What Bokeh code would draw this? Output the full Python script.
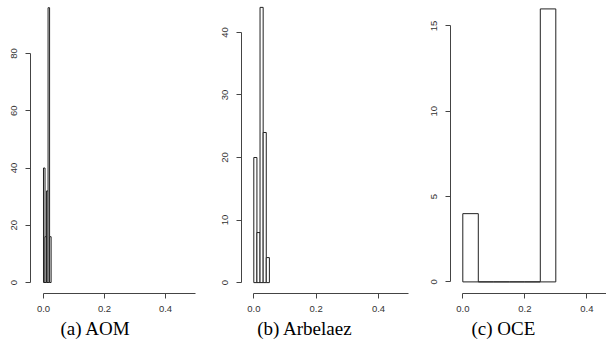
from bokeh.plotting import figure
from bokeh.layouts import row
from bokeh.models import FixedTicker, PrintfTickFormatter, Title, Range1d, ColumnDataSource
from bokeh.embed import file_html
from bokeh.resources import INLINE

# ---- data ----
aom_edges = [0.0, 0.005, 0.010, 0.015, 0.020, 0.025]
aom_counts = [40, 16, 32, 96, 16]

arb_edges = [0.0, 0.01, 0.02, 0.03, 0.04, 0.05]
arb_counts = [20, 8, 44, 24, 4]

oce_edges = [0.0, 0.05, 0.10, 0.15, 0.20, 0.25, 0.30]
oce_counts = [4, 0, 0, 0, 0, 16]

x_ticks = [0.0, 0.2, 0.4]
aom_yticks = [0, 20, 40, 60, 80]
arb_yticks = [0, 10, 20, 30, 40]
oce_yticks = [0, 5, 10, 15]

captions = ["(a) AOM", "(b) Arbelaez", "(c) OCE"]

AXIS_COLOR = "#444444"
TEXT_COLOR = "#333333"


def panel(edges, counts, yticks, caption, width, mb_left, mb_right, mb_bottom,
          xr, yr, cap_offset):
    p = figure(width=width, height=343, output_backend="svg", toolbar_location=None,
               x_range=Range1d(*xr), y_range=Range1d(*yr),
               min_border_left=mb_left, min_border_right=mb_right,
               min_border_top=5, min_border_bottom=mb_bottom)
    p.outline_line_color = None
    p.background_fill_color = "white"
    p.border_fill_color = "white"
    p.xgrid.visible = False
    p.ygrid.visible = False

    src = ColumnDataSource(dict(left=edges[:-1], right=edges[1:], top=counts,
                                bottom=[0] * len(counts)))
    p.quad(left="left", right="right", top="top", bottom="bottom", source=src,
           fill_color="white", line_color="#222222", line_width=1)

    for ax in (p.xaxis[0], p.yaxis[0]):
        ax.axis_line_color = AXIS_COLOR
        ax.major_tick_line_color = AXIS_COLOR
        ax.minor_tick_line_color = None
        ax.major_tick_in = 0
        ax.major_tick_out = 5
        ax.major_label_text_font = "Liberation Sans"
        ax.major_label_text_font_size = "9.5px"
        ax.major_label_text_color = TEXT_COLOR

    p.xaxis.bounds = (0, 0.5)
    p.xaxis.ticker = FixedTicker(ticks=x_ticks, minor_ticks=[])
    p.xaxis.formatter = PrintfTickFormatter(format="%.1f")
    p.xaxis.major_label_standoff = 7

    p.yaxis.bounds = (yticks[0], yticks[-1])
    p.yaxis.ticker = FixedTicker(ticks=yticks, minor_ticks=[])
    p.yaxis.major_label_orientation = "vertical"
    p.yaxis.major_label_standoff = 8

    p.add_layout(Title(text=caption, align="left", offset=cap_offset,
                       text_font="Liberation Serif", text_font_size="19px",
                       text_font_style="normal", text_color="black", standoff=3),
                 "below")
    return p


pa = panel(aom_edges, aom_counts, aom_yticks, captions[0], 205, 30, 5, 50,
           (-0.0426, 0.5148), (-3.84, 96.77), 30)
pb = panel(arb_edges, arb_counts, arb_yticks, captions[1], 205, 36, 2, 47,
           (-0.0395, 0.4963), (-1.74, 44.30), 15.7)
pc = panel(oce_edges, oce_counts, oce_yticks, captions[2], 196, 40, 0, 47,
           (-0.0397, 0.4635), (-0.68, 16.2), 21)

layout = row(pa, pb, pc)
open("out.html", "w").write(file_html(layout, INLINE))
